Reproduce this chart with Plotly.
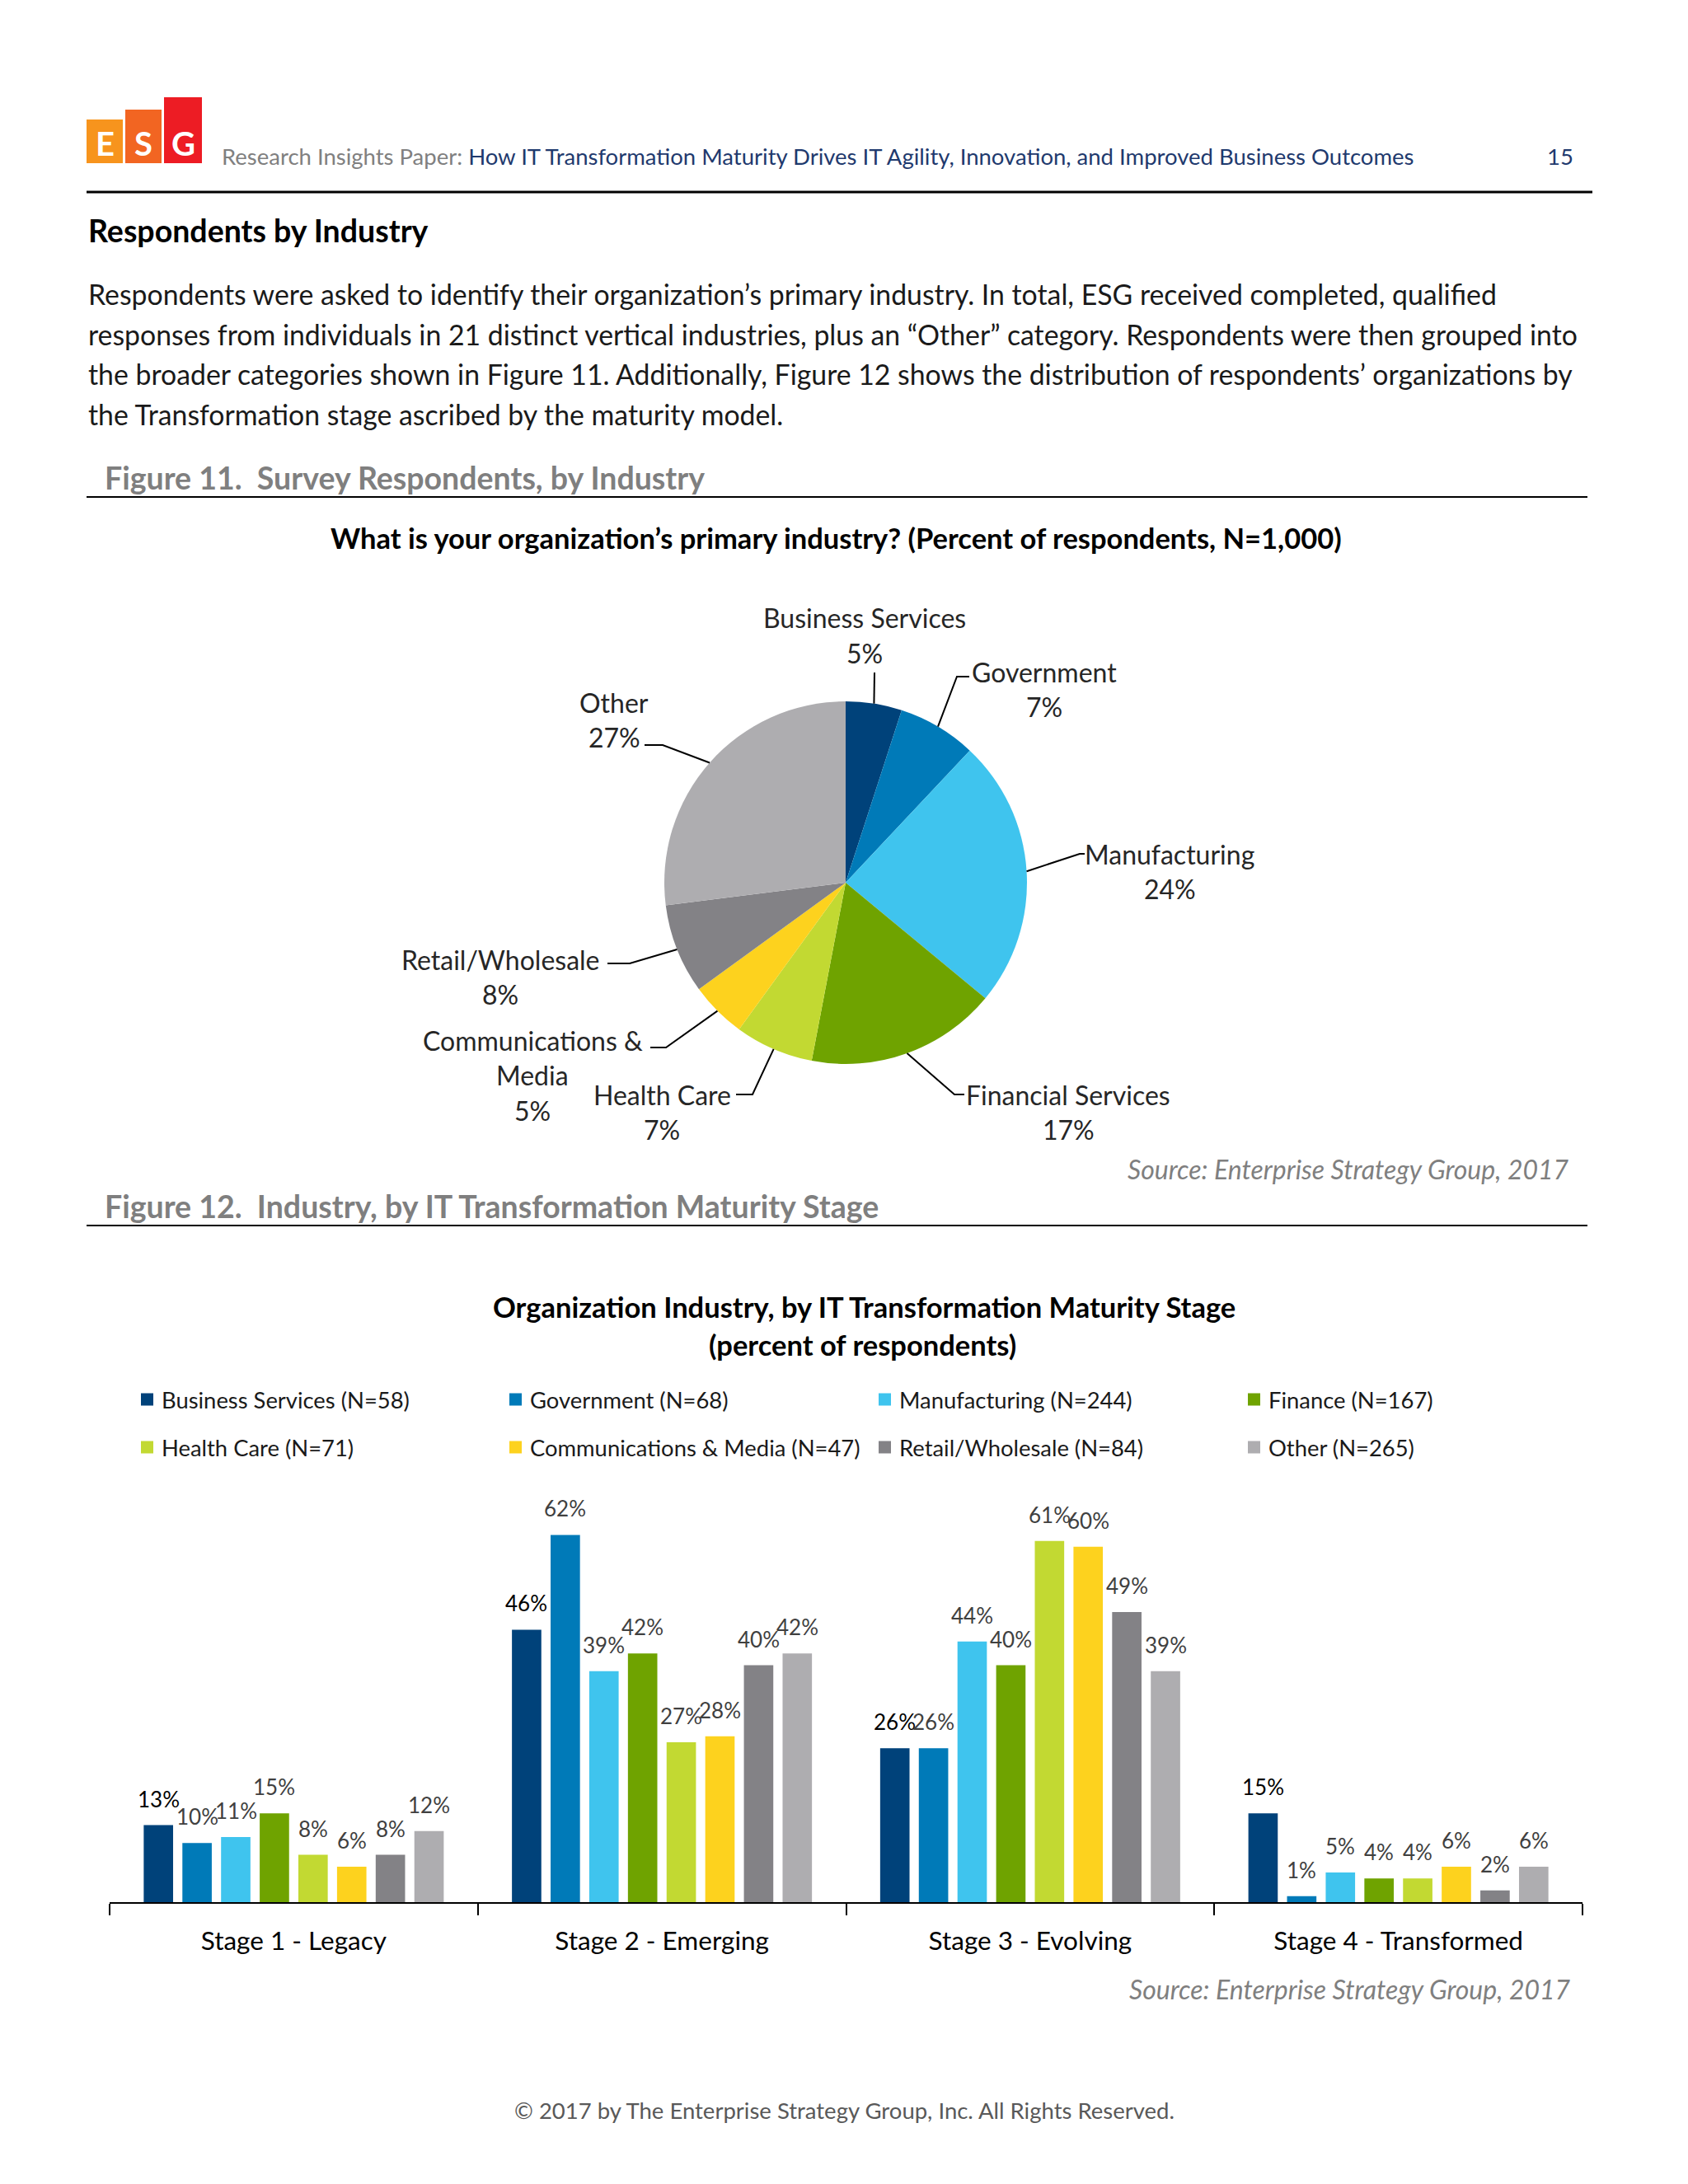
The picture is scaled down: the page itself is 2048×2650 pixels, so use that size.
import math
import plotly.graph_objects as go

W, H = 2048, 2650
FONT = "Lato"

# ---------------- Figure 11 data ----------------
pie_labels = ["Business Services", "Government", "Manufacturing", "Financial Services",
              "Health Care", "Communications & Media", "Retail/Wholesale", "Other"]
pie_values = [5, 7, 24, 17, 7, 5, 8, 27]
pie_colors = ["#00427A", "#007AB8", "#3FC4EE", "#6FA300", "#C2D932", "#FDD21E", "#838286", "#AEADB0"]

# ---------------- Figure 12 data ----------------
stages = ["Stage 1 - Legacy", "Stage 2 - Emerging", "Stage 3 - Evolving", "Stage 4 - Transformed"]
series_names = ["Business Services (N=58)", "Government (N=68)", "Manufacturing (N=244)", "Finance (N=167)",
                "Health Care (N=71)", "Communications & Media (N=47)", "Retail/Wholesale (N=84)", "Other (N=265)"]
business_services = [13, 46, 26, 15]
government = [10, 62, 26, 1]
manufacturing = [11, 39, 44, 5]
finance = [15, 42, 40, 4]
health_care = [8, 27, 61, 4]
communications_media = [6, 28, 60, 6]
retail_wholesale = [8, 40, 49, 2]
other = [12, 42, 39, 6]
series_values = [business_services, government, manufacturing, finance,
                 health_care, communications_media, retail_wholesale, other]
bar_colors = pie_colors
label_colors = ["#000000"] + ["#404040"] * 7


def px(x):
    return x / W


def py(y):
    return 1 - y / H


fig = go.Figure()
ann = []
shapes = []


def text(x, y, s, size, color="#000000", xanchor="left", bold=False, italic=False, yanchor="middle"):
    if bold:
        s = "<b>" + s + "</b>"
    if italic:
        s = "<i>" + s + "</i>"
    ann.append(dict(x=px(x), y=py(y), xref="paper", yref="paper", text=s, showarrow=False,
                    xanchor=xanchor, yanchor=yanchor, font=dict(family=FONT, size=size, color=color)))


def hline(x0, x1, y, width=2, color="#000000"):
    shapes.append(dict(type="line", xref="paper", yref="paper", x0=px(x0), x1=px(x1), y0=py(y), y1=py(y),
                       line=dict(color=color, width=width)))


def rect(x0, x1, y0, y1, color):
    shapes.append(dict(type="rect", xref="paper", yref="paper", x0=px(x0), x1=px(x1), y0=py(y1), y1=py(y0),
                       fillcolor=color, line=dict(width=0)))


# ---------------- page header ----------------
for (x0, x1, y0, col, letter) in [(105, 149, 145, "#F7941D", "E"), (152, 196, 133, "#F26522", "S"),
                                  (199, 245, 118, "#ED1C24", "G")]:
    rect(x0, x1, y0, 198, col)
    text((x0 + x1) / 2, 174, letter, 40, "#FFFFFF", xanchor="center", bold=True)

text(267, 190, "<span style='color:#808080'>Research Insights Paper: </span>"
     "<span style='color:#1F3A6E'>How IT Transformation Maturity Drives IT Agility, Innovation, and Improved Business Outcomes</span>",
     27.5)
text(1911, 190, "15", 27.5, "#1F3A6E", xanchor="right")
hline(105, 1932, 233, width=3)

text(105, 279, "Respondents by Industry", 37.5, bold=True)
body = ["Respondents were asked to identify their organization\u2019s primary industry. In total, ESG received completed, qualified",
        "responses from individuals in 21 distinct vertical industries, plus an \u201cOther\u201d category. Respondents were then grouped into",
        "the broader categories shown in Figure 11. Additionally, Figure 12 shows the distribution of respondents\u2019 organizations by",
        "the Transformation stage ascribed by the maturity model."]
for i, line in enumerate(body):
    text(105, 357 + i * 48.5, line, 33.8, "#1A1A1A")

text(125, 580, "Figure 11.\u00a0 Survey Respondents, by Industry", 37.5, "#7F7F7F", bold=True)
hline(105, 1926, 603)
text(1014, 652, "What is your organization\u2019s primary industry? (Percent of respondents, N=1,000)", 34.5,
     xanchor="center", bold=True)

# ---------------- pie ----------------
cx, cy, R = 1026, 1071, 220
fig.add_trace(go.Pie(values=pie_values, labels=pie_labels, sort=False, direction="clockwise", rotation=0,
                     marker=dict(colors=pie_colors, line=dict(width=0)), textinfo="none", showlegend=False,
                     domain=dict(x=[px(cx - R), px(cx + R)], y=[py(cy + R), py(cy - R)])))

# label layout: text centre x / first line y, elbow point, end point of leader
pie_label_layout = {
    "Business Services": ((1049, 750), (1061, 816), (1061, 816)),
    "Government": ((1267, 815), (1161, 821), (1176, 821)),
    "Manufacturing": ((1419, 1036), (1310, 1036), (1316, 1036)),
    "Financial Services": ((1296, 1328), (1158, 1328), (1170, 1328)),
    "Health Care": ((803, 1328), (913, 1328), (893, 1328)),
    "Communications & Media": ((646, 1262), (808, 1271), (789, 1271)),
    "Retail/Wholesale": ((607, 1164), (764, 1169), (737, 1169)),
    "Other": ((745, 852), (804, 904), (782, 904)),
}
pie_label_lines = {"Communications & Media": ["Communications &", "Media"]}

total = sum(pie_values)
cum = 0
for lab, v in zip(pie_labels, pie_values):
    mid = (cum + v / 2) / total * 2 * math.pi
    cum += v
    ax, ay = cx + R * math.sin(mid), cy - R * math.cos(mid)
    (tx, ty), (ex, ey), (hx, hy) = pie_label_layout[lab]
    shapes.append(dict(type="path", xref="paper", yref="paper",
                       path=f"M{px(ax)},{py(ay)} L{px(ex)},{py(ey)} L{px(hx)},{py(hy)}",
                       line=dict(color="#000000", width=2)))
    lines = pie_label_lines.get(lab, [lab]) + [f"{v}%"]
    for k, ln in enumerate(lines):
        text(tx, ty + k * 42.5, ln, 32, "#262626", xanchor="center")

text(1906, 1418, "Source: Enterprise Strategy Group, 2017", 32, "#7F7F7F", xanchor="right", italic=True)

# ---------------- Figure 12 ----------------
text(125, 1463, "Figure 12.\u00a0 Industry, by IT Transformation Maturity Stage", 37.5, "#7F7F7F", bold=True)
hline(105, 1926, 1487)
text(1048, 1585, "Organization Industry, by IT Transformation Maturity Stage", 34.5, xanchor="center", bold=True)
text(1046, 1631, "(percent of respondents)", 34.5, xanchor="center", bold=True)

# legend (drawn as squares + texts in a 4-column grid)
legend_cols = [171, 618, 1066, 1514]
legend_rows = [1698, 1756]
for j, name in enumerate(series_names):
    lx = legend_cols[j % 4]
    ly = legend_rows[j // 4]
    rect(lx, lx + 15, ly - 7.5, ly + 7.5, bar_colors[j])
    text(lx + 23, ly, name, 27.4, "#1A1A1A")

bargap, bargroupgap = 0.16, 0.24
n = len(series_names)
for j, (name, vals) in enumerate(zip(series_names, series_values)):
    fig.add_trace(go.Bar(x=stages, y=vals, name=name, marker=dict(color=bar_colors[j], line=dict(width=0)),
                         showlegend=False, cliponaxis=False))
    off = -(1 - bargap) / 2 + (j + 0.5) * (1 - bargap) / n
    for i, v in enumerate(vals):
        ann.append(dict(x=i + off, y=v, xref="x", yref="y", text=f"{v}%", showarrow=False,
                        yanchor="middle", yshift=32,
                        font=dict(family=FONT, size=26, color=label_colors[j])))

text(1908, 2413, "Source: Enterprise Strategy Group, 2017", 32, "#7F7F7F", xanchor="right", italic=True)
text(1024, 2560, "\u00a9 2017 by The Enterprise Strategy Group, Inc. All Rights Reserved.", 27.5, "#595959",
     xanchor="center")

fig.update_layout(
    width=W, height=H, margin=dict(l=0, r=0, t=0, b=0),
    paper_bgcolor="#FFFFFF", plot_bgcolor="#FFFFFF",
    font=dict(family=FONT),
    barmode="group", bargap=bargap, bargroupgap=bargroupgap,
    showlegend=False,
    xaxis=dict(domain=[px(133), px(1920)], showline=True, linecolor="#000000", linewidth=2,
               ticks="outside", tickson="boundaries", ticklen=14, tickwidth=2, tickcolor="#000000",
               tickfont=dict(family=FONT, size=31.5, color="#000000"), ticklabelstandoff=18,
               showgrid=False, zeroline=False, fixedrange=True),
    yaxis=dict(domain=[py(2308), py(1805)], range=[0, 70], visible=False, fixedrange=True),
    annotations=ann, shapes=shapes,
)

fig.write_html("out.html", config={"displayModeBar": False},
               post_script="document.body.style.margin='0';")
